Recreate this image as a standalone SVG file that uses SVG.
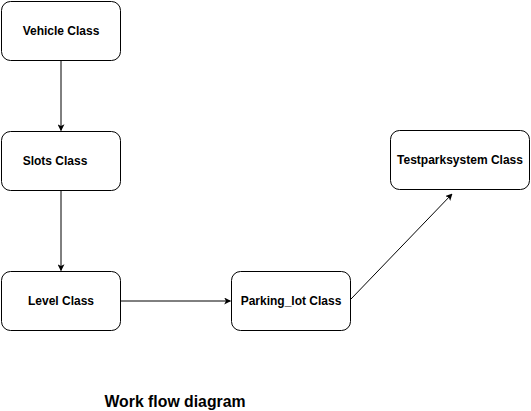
<svg xmlns="http://www.w3.org/2000/svg" width="531" height="411" viewBox="0 0 531 411">
<style>
.box{fill:#fff;stroke:#000;stroke-width:1}
.lbl{font-family:"Liberation Sans",Arial,sans-serif;font-size:12px;font-weight:bold;fill:#000;text-anchor:middle;dominant-baseline:central}
.edge{stroke:#000;stroke-width:1;fill:none;marker-end:url(#arr)}
.title{font-family:"Liberation Sans",Arial,sans-serif;font-size:15.8px;font-weight:bold;fill:#000;text-anchor:middle;dominant-baseline:central}
</style>
<defs>
<marker id="arr" viewBox="0 0 10 10" refX="9" refY="5" markerWidth="7" markerHeight="7" markerUnits="userSpaceOnUse" orient="auto">
<path d="M0,0 L10,5 L0,10 L2.5,5 Z" fill="#000"/>
</marker>
</defs>
<rect width="531" height="411" fill="#fff"/>
<g id="connectors">
<line class="edge" x1="61" y1="61" x2="61" y2="130.5"/>
<line class="edge" x1="61" y1="191" x2="61" y2="270.5"/>
<line class="edge" x1="121" y1="301" x2="230.5" y2="301"/>
<line class="edge" x1="351" y1="299" x2="452" y2="194"/>
</g>
<g id="vehicle"><rect class="box" x="1.5" y="1.5" width="119" height="59" rx="9"/><text class="lbl" x="61" y="31">Vehicle Class</text></g>
<g id="slots"><rect class="box" x="1.5" y="131.5" width="119" height="59" rx="9"/><text class="lbl" x="55" y="161">Slots Class</text></g>
<g id="level"><rect class="box" x="1.5" y="271.5" width="119" height="59" rx="9"/><text class="lbl" x="61" y="301">Level Class</text></g>
<g id="parking"><rect class="box" x="231.5" y="271.5" width="119" height="59" rx="9"/><text class="lbl" x="291" y="301">Parking_lot Class</text></g>
<g id="testpark"><rect class="box" x="390.5" y="130.5" width="139" height="59" rx="9"/><text class="lbl" x="460" y="160">Testparksystem Class</text></g>
<text class="title" x="175" y="401">Work flow diagram</text>
</svg>
